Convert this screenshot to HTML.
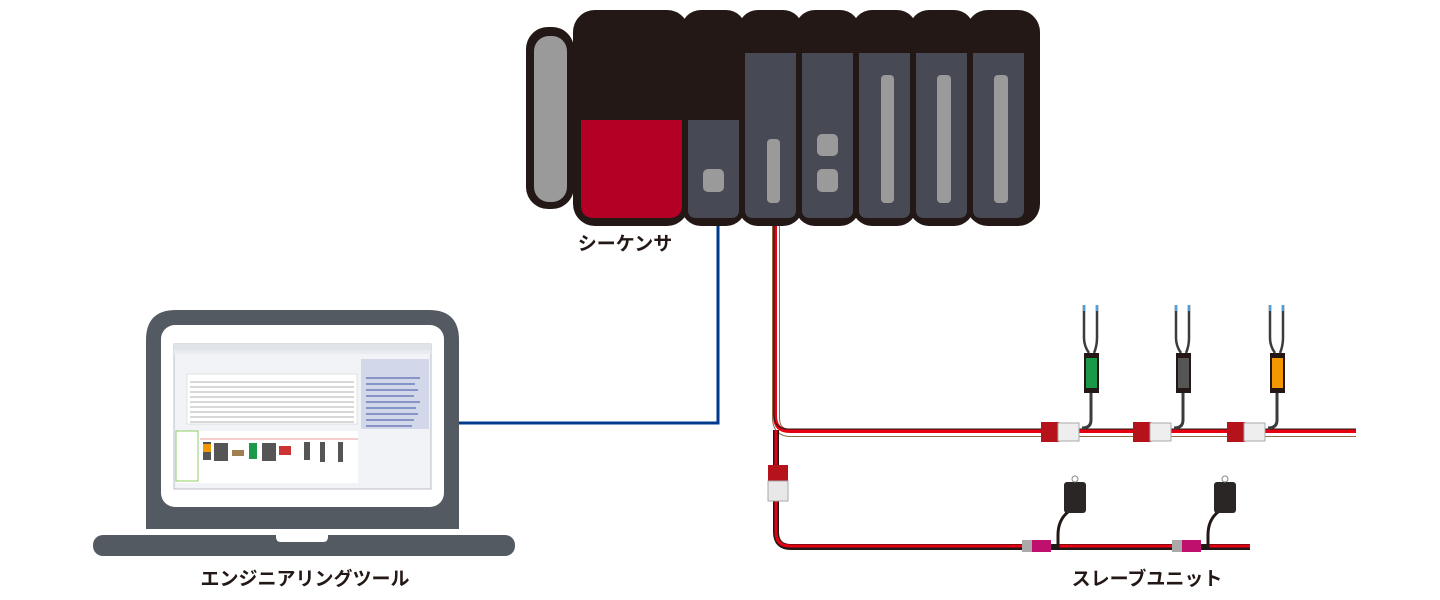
<!DOCTYPE html>
<html><head><meta charset="utf-8"><style>
html,body{margin:0;padding:0;background:#fff;width:1440px;height:600px;overflow:hidden}
svg{display:block}
text{font-family:"Liberation Sans","Noto Sans CJK JP",sans-serif;font-weight:bold;fill:#231815}
</style></head><body>
<svg width="1440" height="600" viewBox="0 0 1440 600" xmlns="http://www.w3.org/2000/svg">
<polyline points="459,423 718,423 718,226" fill="none" stroke="#003a8c" stroke-width="3"/>
<g fill="none">
 <path d="M776,226 V418 Q776,433 791,433 H1356" stroke="#8a6d4a" stroke-width="8"/>
 <path d="M776,226 V418 Q776,433 791,433 H1356" stroke="#fff" stroke-width="6"/>
 <path d="M775,226 V416 Q775,431 790,431 H1356" stroke="#e60012" stroke-width="4"/>
 <path d="M774,226 V415 Q774,429 788,429 H1356" stroke="#231815" stroke-width="1"/>
 <path d="M776,430 V532 Q776,547 791,547 H1250" stroke="#231815" stroke-width="6"/>
 <path d="M776,430 V532 Q776,546 790,546 H1250" stroke="#e60012" stroke-width="3"/>
</g>
<rect x="768" y="465" width="20" height="16" fill="#b5121b"/>
<rect x="768" y="481" width="20" height="20" fill="#e8e8e8" stroke="#aaa" stroke-width="1"/>
<g id="s">
 <path d="M1084,305 V338 Q1084,346 1089,353 M1097,305 V338 Q1097,346 1094,353" stroke="#3c3c3c" stroke-width="2.5" fill="none"/>
 <path d="M1084,305 v6 M1097,305 v6" stroke="#4aa3df" stroke-width="2"/>
 <path d="M1091,393 V420 Q1091,428 1082,428" stroke="#3c3c3c" stroke-width="3" fill="none"/>
 <rect x="1041" y="422" width="18" height="20" fill="#b5121b"/>
 <rect x="1058" y="423" width="21" height="18" fill="#eee" stroke="#aaa" stroke-width="1"/>
 <rect x="1084" y="353" width="15" height="40" fill="#231815"/>
</g>
<rect x="1086" y="358" width="11" height="30" fill="#1a9a48"/>
<use href="#s" x="92"/>
<rect x="1178" y="358" width="11" height="30" fill="#555"/>
<use href="#s" x="186"/>
<rect x="1272" y="358" width="11" height="30" fill="#f39800"/>
<g id="b">
 <path d="M1068,512 Q1058,520 1058,535 V546 H1050" stroke="#231815" stroke-width="3" fill="none"/>
 <rect x="1064" y="482" width="22" height="31" rx="3" fill="#2a2626"/>
 <circle cx="1075" cy="479" r="3" fill="none" stroke="#888"/>
 <rect x="1022" y="540" width="11" height="12" fill="#aaa"/>
 <rect x="1032" y="540" width="19" height="12" fill="#c0106e"/>
</g>
<use href="#b" x="150"/>
<!-- PLC -->
<rect x="526" y="27" width="48" height="182" rx="22" fill="#231815"/>
<rect x="534" y="36" width="33" height="166" rx="15" fill="#9a9a9a"/>
<g fill="#231815">
 <rect x="573" y="10" width="116" height="216" rx="22"/>
 <rect x="681" y="10" width="65" height="216" rx="20"/>
 <rect x="738" y="10" width="65" height="216" rx="20"/>
 <rect x="795" y="10" width="65" height="216" rx="20"/>
 <rect x="852" y="10" width="65" height="216" rx="20"/>
 <rect x="909" y="10" width="65" height="216" rx="20"/>
 <rect x="966" y="10" width="74" height="216" rx="22"/>
 <rect x="590" y="30" width="440" height="180"/>
</g>
<path d="M581,120 H682 V205 Q682,218 669,218 H594 Q581,218 581,205 Z" fill="#b30024"/>
<path d="M688,120 H739 V210 Q739,218 731,218 H696 Q688,218 688,210 Z" fill="#474a54"/>
<rect x="703" y="169" width="21" height="23" rx="5" fill="#9a9a9a"/>
<g fill="#474a54">
 <path d="M745,53 H796 V210 Q796,218 788,218 H753 Q745,218 745,210 Z"/>
 <path d="M802,53 H853 V210 Q853,218 845,218 H810 Q802,218 802,210 Z"/>
 <path d="M859,53 H910 V210 Q910,218 902,218 H867 Q859,218 859,210 Z"/>
 <path d="M916,53 H967 V210 Q967,218 959,218 H924 Q916,218 916,210 Z"/>
 <path d="M973,53 H1024 V210 Q1024,218 1016,218 H981 Q973,218 973,210 Z"/>
</g>
<g fill="#9a9a9a">
 <rect x="767" y="139" width="13" height="64" rx="4"/>
 <rect x="817" y="134" width="21" height="22" rx="5"/>
 <rect x="817" y="169" width="21" height="23" rx="5"/>
 <rect x="881" y="75" width="13" height="128" rx="4"/>
 <rect x="937" y="75" width="14" height="128" rx="4"/>
 <rect x="994" y="75" width="14" height="128" rx="4"/>
</g>
<!-- laptop -->
<path d="M146,529 V340 Q146,310 176,310 H429 Q459,310 459,340 V529 Z" fill="#545a62"/>
<rect x="161" y="325" width="283" height="182" rx="14" fill="#fff"/>
<rect x="174" y="344" width="257" height="145" fill="#f2f3f6" stroke="#b8bcc4"/>
<rect x="174" y="344" width="257" height="6" fill="#dfe3ea"/>
<rect x="174" y="350" width="257" height="4" fill="#e8ebf0"/>
<rect x="361" y="359" width="68" height="70" fill="#d2d8ea"/>
<g stroke="#5b6bb0" stroke-width="1.2">
 <line x1="366" y1="378" x2="420" y2="378"/><line x1="366" y1="384" x2="415" y2="384"/><line x1="366" y1="390" x2="418" y2="390"/><line x1="366" y1="396" x2="414" y2="396"/><line x1="366" y1="402" x2="420" y2="402"/><line x1="366" y1="408" x2="416" y2="408"/><line x1="366" y1="414" x2="418" y2="414"/><line x1="366" y1="420" x2="414" y2="420"/><line x1="366" y1="426" x2="412" y2="426"/>
</g>
<rect x="187" y="374" width="170" height="50" fill="#fff" stroke="#ccc" stroke-width="0.5"/>
<g stroke="#999" stroke-width="0.8">
 <line x1="190" y1="382" x2="354" y2="382"/><line x1="190" y1="387" x2="354" y2="387"/><line x1="190" y1="392" x2="354" y2="392"/><line x1="190" y1="397" x2="354" y2="397"/><line x1="190" y1="402" x2="354" y2="402"/><line x1="190" y1="407" x2="354" y2="407"/><line x1="190" y1="412" x2="354" y2="412"/><line x1="190" y1="417" x2="354" y2="417"/><line x1="190" y1="422" x2="354" y2="422"/>
</g>
<rect x="176" y="431" width="182" height="52" fill="#fff"/>
<rect x="176" y="431" width="22" height="50" fill="none" stroke="#8ccc66"/>
<line x1="200" y1="439" x2="358" y2="439" stroke="#f09a9a"/>
<g fill="#555"><rect x="203" y="442" width="8" height="18"/><rect x="214" y="443" width="14" height="18"/><rect x="232" y="450" width="12" height="6" fill="#a08050"/><rect x="249" y="443" width="8" height="16" fill="#1a9a48"/><rect x="262" y="443" width="14" height="18"/><rect x="279" y="446" width="12" height="9" fill="#c33"/><rect x="304" y="442" width="6" height="18"/><rect x="320" y="442" width="5" height="20"/><rect x="338" y="442" width="5" height="20"/></g>
<rect x="203" y="444" width="8" height="8" fill="#f39800"/>
<rect x="93" y="535" width="422" height="21" rx="10" fill="#545a62"/>
<path d="M276,535 H328 V537 Q328,542 323,542 H281 Q276,542 276,537 Z" fill="#fff"/>
<text x="625" y="250" font-size="19" text-anchor="middle">シーケンサ</text>
<text x="305" y="585" font-size="19" text-anchor="middle">エンジニアリングツール</text>
<text x="1147" y="585" font-size="19" text-anchor="middle">スレーブユニット</text>
</svg>
</body></html>
